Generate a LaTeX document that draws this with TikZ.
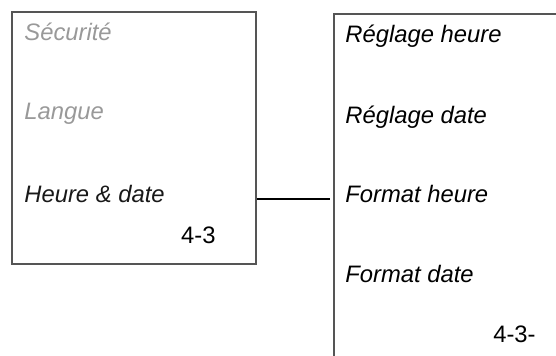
\documentclass[tikz,border=0pt]{standalone}
\usepackage{fontspec}
\setmainfont{Liberation Sans}
\usetikzlibrary{positioning, calc, fit}
\definecolor{boxgray}{HTML}{555555}
\definecolor{offgray}{HTML}{999999}

\begin{document}
\begin{tikzpicture}[x=0.5pt,y=-0.5pt, font=\fontsize{11.9}{14}\selectfont\itshape,
  item/.style={anchor=base west, inner sep=0pt},
  itemoff/.style={item, text=offgray},
  pageno/.style={anchor=base east, inner sep=0pt, font=\fontsize{11.9}{14}\selectfont},
  panel/.style={draw=boxgray, line width=0.75pt, inner sep=0pt}]

\clip (0,0) rectangle (556,356);

% --- Menu di partenza
\coordinate (menuNW) at (12,12);
\coordinate (menuSE) at (256,264);
\node[panel, fit=(menuNW)(menuSE)] (menu) {};
\node[itemoff] (secu) at (24,41) {Sécurité};
\node[itemoff] (langue) at (24,120) {Langue};
\node[item, text=black!90] (hdate) at (24,202.5) {Heure \& date};
\node[pageno] (pmenu) at (216,244) {4-3};

% --- Sottomenu (aperto in basso e a destra)
\coordinate (subNW) at (334,14);
\coordinate (subSE) at (600,380);
\node[panel, fit=(subNW)(subSE)] (sub) {};
\node[item] (rheure) at (345,43) {Réglage heure};
\node[item] (rdate) at (345,124) {Réglage date};
\node[item] (fheure) at (345,203) {Format heure};
\node[item] (fdate) at (345,282.5) {Format date};
\node[pageno] (psub) at (536,343) {4-3-};

% --- Collegamento
\coordinate (gap) at ($(sub.west)+(-3,0)$);
\coordinate (lev) at (0,199);
\draw[line width=0.6pt] (menu.east |- lev) -- (gap |- lev);
\end{tikzpicture}
\end{document}
